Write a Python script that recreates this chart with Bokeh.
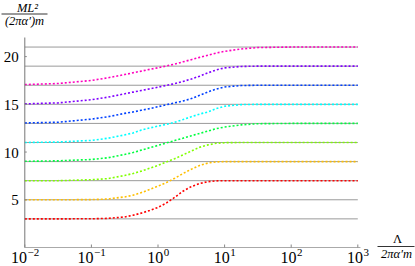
from bokeh.plotting import figure
from bokeh.core.properties import value
from bokeh.embed import file_html
from bokeh.resources import INLINE

# x values (as log10 of Lambda/(2 pi alpha' m))
log10_lambda = [-2, -1.5, -1, -0.75, -0.5, -0.375, -0.25, -0.125, 0, 0.125, 0.25,
                0.375, 0.5, 0.625, 0.75, 0.875, 1, 1.25, 1.5, 2, 3]

# horizontal reference levels
levels = [3, 5, 7, 9, 11, 13, 15, 17, 19, 21]

# ML^2/((2 pi alpha') m) for each curve
red = [3.0, 3.0, 3.01, 3.05, 3.2, 3.38, 3.6, 3.88, 4.2, 4.66, 5.25,
       5.9, 6.38, 6.7, 6.9, 6.98, 7.0, 7.0, 7.0, 7.0, 7.0]
orange = [5.0, 5.0, 5.02, 5.08, 5.3, 5.48, 5.75, 6.08, 6.42, 6.8, 7.25,
          7.75, 8.2, 8.6, 8.85, 8.97, 9.0, 9.0, 9.0, 9.0, 9.0]
yellowgreen = [7.0, 7.0, 7.1, 7.22, 7.55, 7.75, 8.0, 8.3, 8.6, 8.95, 9.3,
               9.7, 10.1, 10.5, 10.75, 10.92, 10.98, 11.0, 11.0, 11.0, 11.0]
green = [9.03, 9.08, 9.22, 9.4, 9.75, 9.95, 10.2, 10.45, 10.7, 10.95, 11.2,
         11.45, 11.7, 11.95, 12.2, 12.45, 12.62, 12.85, 12.97, 13.0, 13.0]
cyan = [11.0, 11.05, 11.22, 11.45, 11.8, 12.0, 12.3, 12.52, 12.72, 12.9, 13.12,
        13.4, 13.7, 13.98, 14.2, 14.55, 14.8, 14.97, 15.0, 15.0, 15.0]
blue = [13.05, 13.12, 13.45, 13.7, 14.05, 14.2, 14.38, 14.55, 14.75, 14.95, 15.15,
        15.35, 15.6, 15.95, 16.3, 16.6, 16.82, 16.97, 17.0, 17.0, 17.0]
violet = [15.05, 15.15, 15.48, 15.75, 16.1, 16.28, 16.45, 16.62, 16.8, 16.98, 17.17,
          17.4, 17.65, 17.95, 18.3, 18.6, 18.82, 18.97, 19.0, 19.0, 19.0]
magenta = [17.07, 17.18, 17.5, 17.78, 18.12, 18.3, 18.48, 18.66, 18.83, 19.02, 19.22,
           19.45, 19.68, 19.92, 20.15, 20.38, 20.55, 20.8, 20.95, 21.0, 21.0]

series = [red, orange, yellowgreen, green, cyan, blue, violet, magenta]
colors = ["#ff0000", "#ffbf00", "#80ff00", "#00ff40", "#00ffff", "#0040ff", "#8000ff", "#ff00bf"]

# axis ticks and tick labels
x_tick_exponents = [-2, -1, 0, 1, 2, 3]
x_tick_exp_labels = ["\u22122", "\u22121", "0", "1", "2", "3"]
y_ticks = [5, 10, 15, 20]
y_tick_labels = ["5", "10", "15", "20"]
x_min_exp, x_max_exp = -2, 3.04
y_min, y_max = 0, 22

lam = [10 ** e for e in log10_lambda]
x_ticks = [10.0 ** e for e in x_tick_exponents]

# canvas geometry (pixels): where 10^-2 and y=0 fall, and scale
W, H = 415, 266
PX_X0 = 24.3      # pixel of x = 10^-2
PX_DEC = 66.6     # pixels per decade
PX_Y0 = 247.0     # pixel of y = 0
PX_UNIT = 9.545   # pixels per y unit


def wx(px):
    return 10 ** (x_min_exp + (px - PX_X0) / PX_DEC)


def wy(py):
    return (PX_Y0 - py) / PX_UNIT


p = figure(width=W, height=H, x_axis_type="log",
           x_range=(wx(0), wx(W)), y_range=(wy(H), wy(0)),
           x_axis_location=None, y_axis_location=None,
           output_backend="svg", toolbar_location=None, min_border=0)
p.outline_line_color = None
p.grid.visible = False

serif = value("Liberation Serif")
x_left = 10 ** x_min_exp
x_right = 10 ** x_max_exp

# gray reference lines
p.segment(x0=[x_ticks[0]] * len(levels), x1=[x_ticks[-1]] * len(levels),
          y0=levels, y1=levels, line_color="#9a9a9a", line_width=1)

# data curves
for ys, c in zip(series, colors):
    p.line(lam, ys, line_color=c, line_width=1.6, line_dash="2 2")

# axis spines
p.segment(x0=[x_left], y0=[y_min], x1=[x_left], y1=[y_max], line_color="#777777", line_width=1)
p.segment(x0=[x_left], y0=[y_min], x1=[x_right], y1=[y_min], line_color="#aaaaaa", line_width=1)

# tick marks (pointing inward)
p.segment(x0=x_ticks, y0=[y_min] * len(x_ticks), x1=x_ticks,
          y1=[y_min + 3 / PX_UNIT] * len(x_ticks), line_color="#888888", line_width=1)
p.segment(x0=[x_left] * len(y_ticks), y0=y_ticks, x1=[x_left * 10 ** (2 / PX_DEC)] * len(y_ticks),
          y1=y_ticks, line_color="#888888", line_width=1)

# y tick labels
p.text(x=[x_left] * len(y_ticks), y=y_ticks, text=y_tick_labels, x_offset=-6, y_offset=0.5,
       text_align="right", text_baseline="middle", text_font=serif,
       text_font_size="15px", text_color="black")

# x tick labels: "10" with a superscript exponent, centred on the tick
base_off = [2.2 if e < 0 else 5.2 for e in x_tick_exponents]
p.text(x=x_ticks, y=[y_min] * len(x_ticks), text=["10"] * len(x_ticks),
       x_offset=base_off, y_offset=9.5, text_align="right", text_baseline="middle",
       text_font=serif, text_font_size="16px", text_color="black")
p.text(x=x_ticks, y=[y_min] * len(x_ticks), text=x_tick_exp_labels,
       x_offset=[o + 0.5 for o in base_off], y_offset=4.5, text_align="left",
       text_baseline="middle", text_font=serif, text_font_size="11px", text_color="black")


def lab(text, px, py, size="12.5px", style="italic"):
    p.text(x=[wx(px)], y=[wy(py)], text=[text], text_font=serif,
           text_font_style=style, text_font_size=size,
           text_align="center", text_baseline="middle", text_color="black")


def bar(px0, px1, py):
    p.segment(x0=[wx(px0)], y0=[wy(py)], x1=[wx(px1)], y1=[wy(py)],
              line_color="black", line_width=0.8)


# y-axis label: ML^2 / ((2 pi alpha') m)
lab("ML²", 27, 7)
bar(1, 47, 13.5)
lab("(2πα′)m", 24, 20)

# x-axis label: Lambda / (2 pi alpha' m)
lab("Λ", 397, 238.5, style="normal")
bar(377, 414, 246)
lab("2πα′m", 396, 253)

open("out.html", "w").write(file_html(p, INLINE))
